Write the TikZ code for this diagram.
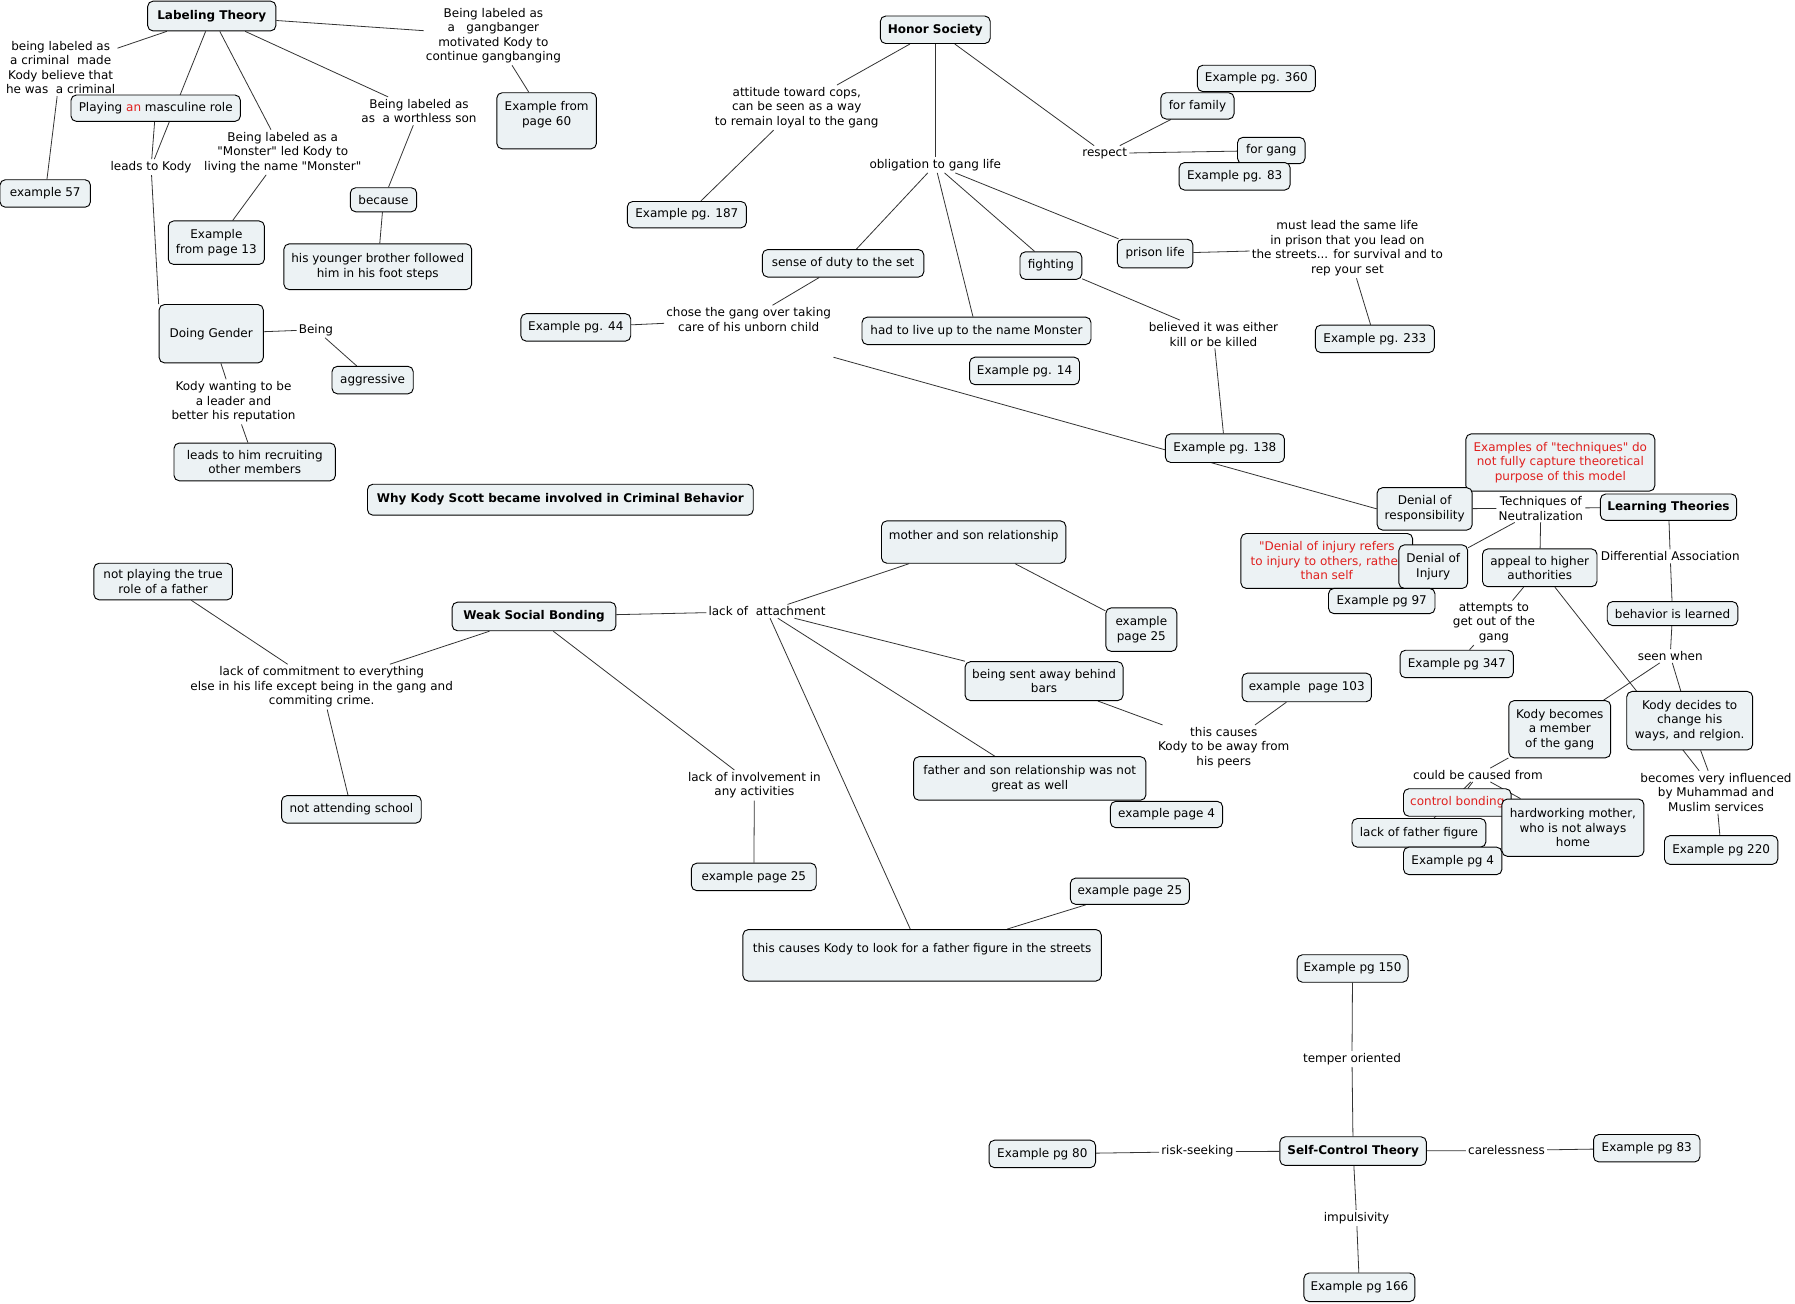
\documentclass[tikz,border=0pt]{standalone}
\usepackage{fontspec}
\setmainfont{DejaVu Sans}[Ligatures=TeXOff]
\usetikzlibrary{backgrounds}
\definecolor{cmapfill}{HTML}{ECF2F4}
\definecolor{cmapline}{HTML}{333333}
\definecolor{cmapred}{HTML}{E0201E}
\newcommand{\mapfont}{\fontsize{9}{10.9}\selectfont}
\tikzset{dims/.style 2 args={minimum width=#1*0.8586pt,minimum height=#2*0.8586pt}}

\begin{document}
\begin{tikzpicture}[
  x={(0.8586pt,0pt)},
  y={(0pt,-0.8586pt)},
  line join=round,
  line cap=round,
  concept/.style={draw=black,fill=cmapfill,rounded corners=4pt,line width=0.7pt,align=center,inner sep=2pt,font=\mapfont},
  key/.style={concept,font=\mapfont\bfseries},
  note/.style={concept,text=cmapred},
  phrase/.style={align=center,inner sep=1.5pt,font=\mapfont},
  link/.style={draw=cmapline,line width=0.6pt}
]
  \useasboundingbox (0,0) rectangle (1568,1139);

  % Labeling theory and doing gender, upper left.
  \node[key,dims={112}{26}] (lab) at (185,14) {Labeling Theory};
  \node[phrase] (pCriminal) at (53,59) {being labeled as\\a criminal~ made\\Kody believe that\\he was~ a criminal};
  \node[concept,dims={79}{24}] (ex57) at (39.5,169) {example 57};
  \node[phrase] (pGangbanger) at (431,31) {Being labeled as\\a~~ gangbanger\\motivated Kody to\\continue gangbanging};
  \node[concept,dims={87}{49}] (ex60) at (477.5,105.5) {Example from\\page 60\\\mbox{}};
  \node[concept,dims={148}{23}] (playmasc) at (136,94.5) {Playing \textcolor{cmapred}{an} masculine role};
  \node[phrase] (pLeads) at (132,146) {leads to Kody};
  \node[phrase] (pMonster) at (247,133) {Being labeled as a\\"Monster" led Kody to\\living the name "Monster"};
  \node[concept,dims={84}{38}] (ex13) at (189,212) {Example\\from page 13};
  \node[phrase] (pWorthless) at (366,97) {Being labeled as\\as~ a worthless son};
  \node[concept,dims={58}{21}] (because) at (335,174.5) {because};
  \node[concept,dims={164}{40}] (brother) at (330,233) {his younger brother followed\\him in his foot steps};
  \node[concept,dims={91}{51}] (gender) at (184.5,291.5) {Doing Gender};
  \node[phrase] (pBeing) at (276,288) {Being};
  \node[concept,dims={71}{24}] (aggr) at (325.5,332) {aggressive};
  \node[phrase] (pLeader) at (204,351) {Kody wanting to be\\a leader and\\better his reputation};
  \node[concept,dims={141}{33}] (recruit) at (222.5,403.5) {leads to him recruiting\\other members};
  \node[key,dims={337}{27}] (title) at (489.5,436.5) {Why Kody Scott became involved in Criminal Behavior};

  % Honor society, upper middle.
  \node[key,dims={96}{24}] (honor) at (817,26) {Honor Society};
  \node[phrase] (pCops) at (696,94) {attitude toward cops,\\can be seen as a way\\to remain loyal to the gang};
  \node[concept,dims={104}{23}] (ex187) at (600,187.5) {Example pg. 187};
  \node[phrase] (pObligation) at (817,144) {obligation to gang life};
  \node[phrase] (pRespect) at (965,134) {respect};
  \node[concept,dims={103}{23}] (ex360) at (1097.5,68.5) {Example pg. 360};
  \node[concept,dims={64}{23}] (family) at (1046,92.5) {for family};
  \node[concept,dims={59}{23}] (gang) at (1110.5,131.5) {for gang};
  \node[concept,dims={97}{24}] (ex83a) at (1078.5,154) {Example pg. 83};
  \node[concept,dims={141}{24}] (duty) at (736.5,230) {sense of duty to the set};
  \node[concept,dims={54}{24}] (fighting) at (918,232) {fighting};
  \node[concept,dims={66}{25}] (prison) at (1009,221.5) {prison life};
  \node[phrase] (pPrison) at (1177,217) {must lead the same life\\in prison that you lead on\\the streets... for survival and to\\rep your set};
  \node[concept,dims={104}{24}] (ex233) at (1201,296) {Example pg. 233};
  \node[phrase] (pChose) at (654,279) {chose the gang over taking\\care of his unborn child};
  \node[concept,dims={96}{24}] (ex44) at (503,286) {Example pg. 44};
  \node[concept,dims={200}{24}] (monster) at (853,289) {had to live up to the name Monster};
  \node[concept,dims={96}{24}] (ex14) at (895,324) {Example pg. 14};
  \node[phrase] (pKilled) at (1060,292) {believed it was either\\kill or be killed};
  \node[concept,dims={104}{25}] (ex138) at (1070,391.5) {Example pg. 138};

  % Learning theories and techniques of neutralization, right.
  \node[note,dims={165}{50}] (techred) at (1363,404) {Examples of "techniques" do\\not fully capture theoretical\\purpose of this model};
  \node[concept,dims={83}{37}] (denresp) at (1244.5,444.5) {Denial of\\responsibility};
  \node[phrase] (pTechniques) at (1346,444) {Techniques of\\Neutralization};
  \node[key,dims={119}{23}] (learning) at (1457.5,443) {Learning Theories};
  \node[note,dims={150}{48}] (injred) at (1159,490) {"Denial of injury refers\\to injury to others, rather\\than self};
  \node[concept,dims={60}{38}] (deninj) at (1252,495) {Denial of\\Injury};
  \node[concept,dims={93}{22}] (ex97) at (1207,525) {Example pg 97};
  \node[concept,dims={100}{33}] (appeal) at (1345,496) {appeal to higher\\authorities};
  \node[phrase] (pDiffAssoc) at (1459,486) {Differential Association};
  \node[concept,dims={114}{21}] (learned) at (1461,536) {behavior is learned};
  \node[phrase] (pAttempts) at (1305,544) {attempts to\\get out of the\\gang};
  \node[concept,dims={99}{24}] (ex347) at (1272.5,580) {Example pg 347};
  \node[phrase] (pSeen) at (1459,573) {seen when};
  \node[concept,dims={89}{50}] (member) at (1362.5,637) {Kody becomes\\a member\\of the gang};
  \node[concept,dims={110}{51}] (decides) at (1476,629.5) {Kody decides to\\change his\\ways, and relgion.};
  \node[phrase] (pCaused) at (1291,677) {could be caused from};
  \node[note,dims={94}{24}] (control) at (1273,701) {control bonding};
  \node[concept,dims={117}{25}] (fatherfig) at (1239.5,727.5) {lack of father figure};
  \node[concept,dims={86}{24}] (ex4a) at (1269,752) {Example pg 4};
  \node[concept,dims={124}{50}] (hardwork) at (1374,723) {hardworking mother,\\who is not always\\home};
  \node[phrase] (pInfluenced) at (1499,692) {becomes very influenced\\by Muhammad and\\Muslim services};
  \node[concept,dims={99}{25}] (ex220) at (1503.5,742.5) {Example pg 220};

  % Weak social bonding, middle.
  \node[concept,dims={161}{37}] (mother) at (850.5,473.5) {mother and son relationship\\\mbox{}};
  \node[concept,dims={62}{38}] (ex25a) at (997,550) {example\\page 25};
  \node[phrase] (pAttachment) at (670,534) {lack of~ attachment};
  \node[key,dims={143}{25}] (weak) at (466.5,538.5) {Weak Social Bonding};
  \node[concept,dims={121}{32}] (father) at (142.5,508) {not playing the true\\role of a father};
  \node[phrase] (pCommitment) at (281,600) {lack of commitment to everything\\else in his life except being in the gang and\\commiting crime.};
  \node[concept,dims={122}{24}] (school) at (307,707) {not attending school};
  \node[concept,dims={138}{34}] (bars) at (912,595) {being sent away behind\\bars};
  \node[phrase] (pPeers) at (1069,653) {this causes\\Kody to be away from\\his peers};
  \node[concept,dims={113}{25}] (ex103) at (1141.5,600.5) {example~ page 103};
  \node[concept,dims={203}{38}] (fatherson) at (899.5,680) {father and son relationship was not\\great as well};
  \node[concept,dims={98}{23}] (ex4b) at (1019,711.5) {example page 4};
  \node[phrase] (pInvolvement) at (659,686) {lack of involvement in\\any activities};
  \node[concept,dims={109}{24}] (ex25b) at (658.5,766) {example page 25};
  \node[concept,dims={104}{23}] (ex25c) at (987,778.5) {example page 25};
  \node[concept,dims={313}{45}] (streets) at (805.5,834.5) {this causes Kody to look for a father figure in the streets\\\mbox{}};

  % Self-control theory, bottom.
  \node[concept,dims={97}{24}] (ex150) at (1181.5,846) {Example pg 150};
  \node[phrase] (pTemper) at (1181,925) {temper oriented};
  \node[key,dims={128}{25}] (selfctl) at (1182,1005.5) {Self-Control Theory};
  \node[phrase] (pRisk) at (1046,1006) {risk-seeking};
  \node[concept,dims={93}{24}] (ex80) at (910.5,1008) {Example pg 80};
  \node[phrase] (pCareless) at (1316,1005) {carelessness};
  \node[concept,dims={93}{24}] (ex83b) at (1438.5,1003) {Example pg 83};
  \node[phrase] (pImpuls) at (1185,1064) {impulsivity};
  \node[concept,dims={97}{25}] (ex166) at (1187.5,1124.5) {Example pg 166};

  % Connectors sit behind the boxes, so lines that pass a box are hidden.
  \begin{scope}[on background layer]
    \fill[white] (0,0) rectangle (1568,1139);
    \draw[link] (lab) -- (pCriminal) -- (ex57);
    \draw[link] (lab) -- (pGangbanger) -- (ex60);
    \draw[link] (lab) -- (pLeads);
    \draw[link] (playmasc) -- (pLeads);
    \draw[link] (pLeads) -- (gender.north west);
    \draw[link] (lab) -- (pMonster) -- (ex13);
    \draw[link] (lab) -- (pWorthless) -- (because) -- (brother);
    \draw[link] (gender) -- (pBeing) -- (aggr);
    \draw[link] (gender) -- (pLeader) -- (recruit);

    \draw[link] (honor) -- (pCops) -- (ex187);
    \draw[link] (honor) -- (pObligation);
    \draw[link] (honor) -- (pRespect);
    \draw[link] (pRespect) -- (family);
    \draw[link] (pRespect) -- (gang);
    \draw[link] (pObligation) -- (duty);
    \draw[link] (pObligation) -- (monster);
    \draw[link] (pObligation) -- (fighting);
    \draw[link] (pObligation) -- (prison);
    \draw[link] (prison) -- (pPrison) -- (ex233);
    \draw[link] (fighting) -- (pKilled) -- (ex138);
    \draw[link] (duty) -- (pChose) -- (ex44);
    \draw[link,shorten <=66pt] (pChose.south) -- (denresp.west);

    \draw[link] (denresp) -- (pTechniques) -- (learning);
    \draw[link] (pTechniques) -- (deninj);
    \draw[link] (pTechniques) -- (appeal);
    \draw[link] (appeal) -- (pAttempts) -- (ex347);
    \draw[link] (appeal) -- (pInfluenced);
    \draw[link] (learning) -- (pDiffAssoc) -- (learned) -- (pSeen);
    \draw[link] (pSeen) -- (member);
    \draw[link] (pSeen) -- (decides);
    \draw[link] (member) -- (pCaused);
    \draw[link] (pCaused) -- (control);
    \draw[link] (pCaused) -- (hardwork);
    \draw[link] (pCaused) -- (fatherfig);
    \draw[link] (decides) -- (pInfluenced) -- (ex220);

    \draw[link] (weak) -- (pAttachment);
    \draw[link] (pAttachment) -- (mother) -- (ex25a);
    \draw[link] (pAttachment) -- (bars) -- (pPeers) -- (ex103);
    \draw[link] (pAttachment) -- (fatherson);
    \draw[link] (pAttachment) -- (streets);
    \draw[link] (ex25c) -- (streets);
    \draw[link] (weak) -- (pCommitment);
    \draw[link] (pCommitment) -- (father);
    \draw[link] (pCommitment) -- (school);
    \draw[link] (weak) -- (pInvolvement) -- (ex25b);

    \draw[link] (ex150) -- (pTemper) -- (selfctl);
    \draw[link] (selfctl) -- (pRisk) -- (ex80);
    \draw[link] (selfctl) -- (pCareless) -- (ex83b);
    \draw[link] (selfctl) -- (pImpuls) -- (ex166);
  \end{scope}
\end{tikzpicture}
\end{document}
